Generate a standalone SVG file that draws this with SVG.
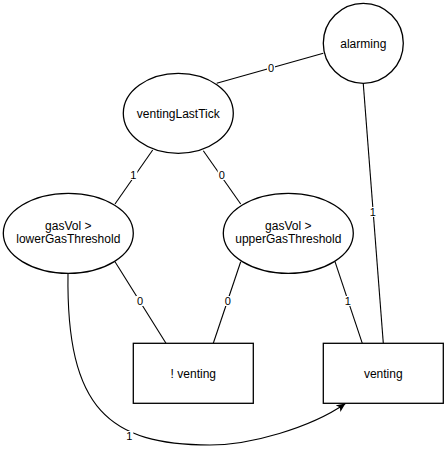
<svg xmlns="http://www.w3.org/2000/svg" width="445" height="464" viewBox="0 0 445 464">
<style>
.shape{fill:#fff;stroke:#000;stroke-width:1.3}
.lbl{font-family:"Liberation Sans",Arial,sans-serif;font-size:12px;fill:#000;text-anchor:middle}
.edge{fill:none;stroke:#000;stroke-width:1.1}
.el{font-family:"Liberation Sans",Arial,sans-serif;font-size:11px;fill:#000;text-anchor:middle}
.bg{fill:#fff}
</style>
<defs>
<marker id="arrow" markerUnits="userSpaceOnUse" markerWidth="12" markerHeight="10" refX="9" refY="4" orient="auto">
<path d="M0,0 L9,4 L0,8 L2.2,4 Z" fill="#000"/>
</marker>
</defs>
<rect width="445" height="464" fill="#fff"/>
<g id="connectors">
<line class="edge" x1="216.7" y1="83.3" x2="323.3" y2="53.3"/>
<line class="edge" x1="152.7" y1="150" x2="115" y2="204"/>
<line class="edge" x1="203.3" y1="150.7" x2="240.7" y2="204"/>
<line class="edge" x1="363.3" y1="84" x2="383.3" y2="343.3"/>
<line class="edge" x1="115" y1="261.7" x2="166" y2="343.3"/>
<line class="edge" x1="240.7" y1="261.7" x2="213.3" y2="343.3"/>
<line class="edge" x1="335" y1="261.7" x2="362.3" y2="343.3"/>
<path class="edge" d="M68,273.5 C66,410 110,445 210,445 C250,445 310,428 345.5,403.5" marker-end="url(#arrow)"/>
<rect class="bg" x="267" y="63" width="8" height="10"/>
<text class="el" x="271" y="72">0</text>
<rect class="bg" x="129.3" y="170" width="8" height="10"/>
<text class="el" x="133.3" y="179">1</text>
<rect class="bg" x="217.7" y="170" width="8" height="10"/>
<text class="el" x="221.7" y="179">0</text>
<rect class="bg" x="368.7" y="207" width="8" height="10"/>
<text class="el" x="372.7" y="216">1</text>
<rect class="bg" x="136" y="296" width="8" height="10"/>
<text class="el" x="140" y="305">0</text>
<rect class="bg" x="223.7" y="296" width="8" height="10"/>
<text class="el" x="227.7" y="305">0</text>
<rect class="bg" x="343.7" y="296" width="8" height="10"/>
<text class="el" x="347.7" y="305">1</text>
<rect class="bg" x="125.3" y="431" width="8" height="10"/>
<text class="el" x="129.3" y="440">1</text>
</g>
<g id="alarming">
<circle class="shape" cx="363.3" cy="43.3" r="40"/>
<text class="lbl" x="363.3" y="47.5">alarming</text>
</g>
<g id="ventingLastTick">
<ellipse class="shape" cx="178.3" cy="113.3" rx="55" ry="40"/>
<text class="lbl" x="178.3" y="117.5">ventingLastTick</text>
</g>
<g id="lowerGas">
<ellipse class="shape" cx="68.3" cy="233.3" rx="65" ry="40"/>
<text class="lbl" x="68.3" y="230">gasVol &gt;</text>
<text class="lbl" x="68.3" y="242.5">lowerGasThreshold</text>
</g>
<g id="upperGas">
<ellipse class="shape" cx="288.3" cy="233.3" rx="65" ry="40"/>
<text class="lbl" x="288.3" y="230">gasVol &gt;</text>
<text class="lbl" x="288.3" y="242.5">upperGasThreshold</text>
</g>
<g id="notVenting">
<rect class="shape" x="133.3" y="343.3" width="120" height="60"/>
<text class="lbl" x="193.3" y="377.5">! venting</text>
</g>
<g id="venting">
<rect class="shape" x="323.3" y="343.3" width="120" height="60"/>
<text class="lbl" x="383.3" y="377.5">venting</text>
</g>
</svg>
